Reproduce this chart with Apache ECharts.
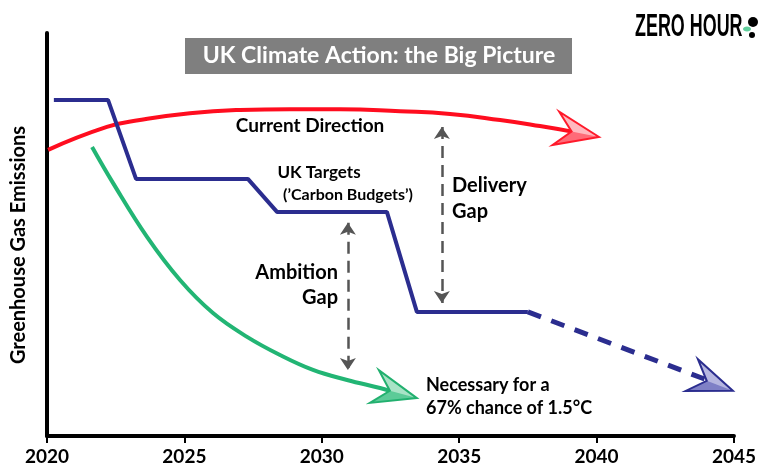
<!DOCTYPE html>
<html>
<head>
<meta charset="utf-8">
<script src="https://cdn.jsdelivr.net/npm/echarts@6/dist/echarts.min.js"></script>
<style>
  html, body { margin: 0; padding: 0; background: #fff; }
  #main { width: 759px; height: 471px; }
</style>
</head>
<body>
<div id="main"></div>
<script>
// x: year, y: relative emissions (no scale shown on the original)
var years = [2020, 2025, 2030, 2035, 2040, 2045];

var currentDirection = [
  [2020.04, 71.0], [2022.18, 76.7], [2023.38, 78.4], [2025.20, 80.1],
  [2027.02, 80.9], [2028.84, 81.1], [2030.66, 81.1], [2032.85, 80.6],
  [2034.67, 79.9], [2036.49, 78.4], [2037.94, 76.9], [2039.21, 75.4]
];

var ukTargets = [
  [2020.25, 83.4], [2022.22, 83.4], [2023.24, 63.8], [2027.31, 63.8],
  [2028.37, 55.6], [2032.37, 55.6], [2033.46, 30.8], [2037.50, 30.8]
];
var ukTargetsBeyond = [[2037.50, 30.8], [2044.02, 13.9]];

var necessary = [
  [2021.64, 71.7], [2022.40, 62.8], [2023.64, 49.4], [2024.84, 38.7],
  [2026.04, 30.5], [2027.28, 24.6], [2028.48, 20.1], [2029.68, 16.4],
  [2030.92, 13.9], [2032.12, 11.9], [2032.48, 11.2]
];

// arrow heads: tip x, tip y, direction-from x, direction-from y
var arrowHeads = [
  [2040.09, 74.2, 2039.21, 75.4],
  [2033.46, 9.4, 2032.12, 11.9],
  [2044.96, 11.2, 2037.50, 30.8]
];
var arrowColors = [
  { line: '#ff1a2b', light: '#ffb9bf', dark: '#ff6b78' },
  { line: '#22b06f', light: '#a8e3c6', dark: '#5ccb98' },
  { line: '#2b2d8f', light: '#b6b6e0', dark: '#7f80c6' }
];

// gap arrows: x, from y, to y
var gaps = [
  [2030.95, 52.9, 16.4],
  [2034.37, 76.7, 33.0]
];

var font = 'Lato, "Noto Sans", sans-serif';

var myChart = echarts.init(document.getElementById('main'));

function renderArrow(params, api) {
  var tip = api.coord([api.value(0), api.value(1)]);
  var from = api.coord([api.value(2), api.value(3)]);
  var a = Math.atan2(tip[1] - from[1], tip[0] - from[0]);
  var c = Math.cos(a), s = Math.sin(a);
  function pt(u, v) {
    return [tip[0] + u * c - v * s, tip[1] + u * s + v * c];
  }
  var b1 = pt(-44, -17), notch = pt(-28, 0), b2 = pt(-44, 17);
  var col = arrowColors[params.dataIndex];
  return {
    type: 'group',
    children: [
      { type: 'polygon', shape: { points: [tip, b1, notch, b2] }, style: { fill: col.dark } },
      { type: 'polygon', shape: { points: [tip, b1, notch] }, style: { fill: col.light } },
      { type: 'polygon', shape: { points: [tip, b1, notch, b2] },
        style: { fill: 'none', stroke: col.line, lineWidth: 2, lineJoin: 'miter' } }
    ]
  };
}

option = {
  animation: false,
  backgroundColor: '#fff',
  grid: { left: 47, right: 25, top: 33, bottom: 35 },
  xAxis: {
    type: 'value',
    min: 2020,
    max: 2045,
    interval: 5,
    axisLine: { lineStyle: { color: '#000', width: 4 } },
    axisTick: { show: true, length: 7, lineStyle: { color: '#000', width: 2 } },
    axisLabel: {
      fontSize: 19, color: '#000', fontFamily: font, fontWeight: 'bold', margin: 11,
      formatter: function (v) { return years.indexOf(v) > -1 ? String(v) : ''; }
    },
    splitLine: { show: false }
  },
  yAxis: {
    type: 'value',
    min: 0,
    max: 100,
    axisLine: { show: true, lineStyle: { color: '#000', width: 4 } },
    axisTick: { show: false },
    axisLabel: { show: false },
    splitLine: { show: false }
  },
  series: [
    {
      name: 'Current Direction',
      type: 'line',
      smooth: 0.5,
      symbol: 'none',
      data: currentDirection,
      lineStyle: { color: '#ff0d1f', width: 4 }
    },
    {
      name: 'UK Targets',
      type: 'line',
      symbol: 'none',
      data: ukTargets,
      lineStyle: { color: '#2b2d8f', width: 4 }
    },
    {
      name: 'UK Targets beyond',
      type: 'line',
      symbol: 'none',
      data: ukTargetsBeyond,
      lineStyle: { color: '#2b2d8f', width: 5, type: [14, 11] }
    },
    {
      name: 'Necessary',
      type: 'line',
      smooth: 0.4,
      symbol: 'none',
      data: necessary,
      lineStyle: { color: '#22b574', width: 4 },
      markLine: {
        silent: true,
        symbol: ['arrow', 'arrow'],
        symbolSize: [12, 12],
        label: { show: false },
        lineStyle: { color: '#555', width: 2.5, type: [12, 7] },
        emphasis: { disabled: true },
        data: gaps.map(function (g) {
          return [{ coord: [g[0], g[1]] }, { coord: [g[0], g[2]] }];
        })
      }
    },
    {
      name: 'Arrow heads',
      type: 'custom',
      renderItem: renderArrow,
      data: arrowHeads,
      z: 5
    }
  ],
  graphic: [
    { type: 'rect', shape: { x: 185, y: 38, width: 387, height: 36 }, style: { fill: '#7f7f7f' } },
    { type: 'text', x: 379, y: 56,
      style: { text: 'UK Climate Action: the Big Picture', fill: '#fff', font: 'bold 23px ' + font,
        textAlign: 'center', textVerticalAlign: 'middle' } },

    { type: 'text', x: 19, y: 245, rotation: Math.PI / 2,
      style: { text: 'Greenhouse Gas Emissions', fill: '#000', font: 'bold 20px ' + font,
        textAlign: 'center', textVerticalAlign: 'middle' } },

    { type: 'text', x: 635, y: 27, scaleX: 0.56,
      style: { text: 'ZERO HOUR', fill: '#000', font: 'bold 32px "Liberation Sans", sans-serif',
        textAlign: 'left', textVerticalAlign: 'middle' } },
    { type: 'ellipse', shape: { cx: 747, cy: 29, rx: 4, ry: 2.5 }, style: { fill: '#5fcf9c' } },
    { type: 'circle', shape: { cx: 753, cy: 22, r: 5 }, style: { fill: '#000' } },
    { type: 'circle', shape: { cx: 752, cy: 35, r: 3 }, style: { fill: '#000' } },

    { type: 'text', x: 310, y: 126,
      style: { text: 'Current Direction', fill: '#000', font: 'bold 19px ' + font,
        textAlign: 'center', textVerticalAlign: 'middle' } },
    { type: 'text', x: 319, y: 173,
      style: { text: 'UK Targets', fill: '#000', font: 'bold 17px ' + font,
        textAlign: 'center', textVerticalAlign: 'middle' } },
    { type: 'text', x: 348, y: 195,
      style: { text: '(\u2019Carbon Budgets\u2019)', fill: '#000', font: 'bold 16px ' + font,
        textAlign: 'center', textVerticalAlign: 'middle' } },
    { type: 'text', x: 452, y: 186,
      style: { text: 'Delivery', fill: '#000', font: 'bold 20px ' + font,
        textAlign: 'left', textVerticalAlign: 'middle' } },
    { type: 'text', x: 452, y: 212,
      style: { text: 'Gap', fill: '#000', font: 'bold 20px ' + font,
        textAlign: 'left', textVerticalAlign: 'middle' } },
    { type: 'text', x: 338, y: 273,
      style: { text: 'Ambition', fill: '#000', font: 'bold 20px ' + font,
        textAlign: 'right', textVerticalAlign: 'middle' } },
    { type: 'text', x: 338, y: 298,
      style: { text: 'Gap', fill: '#000', font: 'bold 20px ' + font,
        textAlign: 'right', textVerticalAlign: 'middle' } },
    { type: 'text', x: 426, y: 385,
      style: { text: 'Necessary for a', fill: '#000', font: 'bold 18px ' + font,
        textAlign: 'left', textVerticalAlign: 'middle' } },
    { type: 'text', x: 426, y: 408,
      style: { text: '67% chance of 1.5\u00b0C', fill: '#000', font: 'bold 18px ' + font,
        textAlign: 'left', textVerticalAlign: 'middle' } }
  ]
};
myChart.setOption(option);
</script>
</body>
</html>
